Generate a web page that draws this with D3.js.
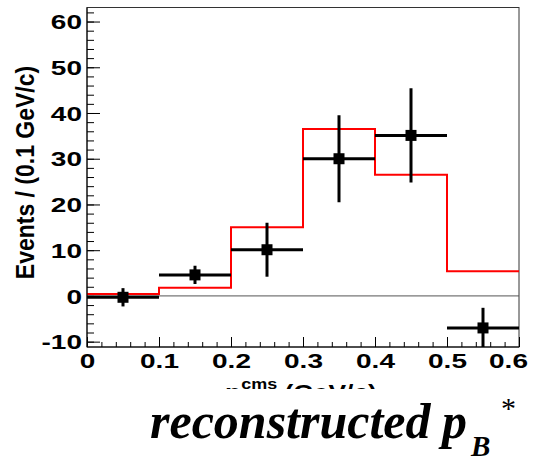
<!DOCTYPE html>
<html>
<head>
<meta charset="utf-8">
<script src="https://cdn.jsdelivr.net/npm/d3@7"></script>
<style>
  html, body { margin: 0; padding: 0; background: #fff; }
  svg { display: block; }
</style>
</head>
<body>
<script>
// ---- data ----
const binEdges = [0, 0.1, 0.2, 0.3, 0.4, 0.5, 0.6];
const fitValues = [0.4, 1.8, 15.0, 36.5, 26.5, 5.4];          // red histogram
const dataCenters = [0.05, 0.15, 0.25, 0.35, 0.45, 0.55];
const dataValues = [-0.3, 4.6, 10.1, 30.0, 35.1, -7.0];
const dataErrors = [2.0, 2.0, 5.9, 9.5, 10.3, 4.4];
const yTicks = [-10, 0, 10, 20, 30, 40, 50, 60];
const xTicks = [0, 0.1, 0.2, 0.3, 0.4, 0.5, 0.6];
const yTitle = "Events / (0.1 GeV/c)";
const captionMain = "reconstructed ";

const W = 536, H = 461;
const m = { left: 87, top: 7.5, right: 536 - 519, bottom: 461 - 347 };
const iw = W - m.left - m.right, ih = H - m.top - m.bottom;

const svg = d3.select("body").append("svg").attr("width", W).attr("height", H);
const g = svg.append("g").attr("transform", `translate(${m.left},${m.top})`);

const x = d3.scaleLinear().domain([0, 0.6]).range([0, iw]);
const y = d3.scaleLinear().domain([-11.17, 63.07]).range([ih, 0]);

svg.append("defs").append("clipPath").attr("id", "clip")
  .append("rect").attr("width", iw).attr("height", ih);

// frame
g.append("rect").attr("width", iw).attr("height", ih)
  .attr("fill", "none").attr("stroke", "#333").attr("stroke-width", 1);

// zero line
g.append("line").attr("x1", 0).attr("x2", iw).attr("y1", y(0)).attr("y2", y(0))
  .attr("stroke", "#555").attr("stroke-width", 1);

const plot = g.append("g").attr("clip-path", "url(#clip)");

// red step histogram
const stepPts = [];
fitValues.forEach((v, i) => { stepPts.push([binEdges[i], v]); stepPts.push([binEdges[i + 1], v]); });
plot.append("path")
  .attr("d", d3.line().x(d => x(d[0])).y(d => y(d[1]))(stepPts))
  .attr("fill", "none").attr("stroke", "#ff0000").attr("stroke-width", 2);

// data points with errors
const pts = plot.selectAll("g.pt").data(dataValues.map((v, i) => ({
  c: dataCenters[i], v, e: dataErrors[i], lo: binEdges[i], hi: binEdges[i + 1]
}))).join("g").attr("class", "pt");
pts.append("line").attr("x1", d => x(d.lo)).attr("x2", d => x(d.hi))
  .attr("y1", d => y(d.v)).attr("y2", d => y(d.v)).attr("stroke", "#000").attr("stroke-width", 3);
pts.append("line").attr("x1", d => x(d.c)).attr("x2", d => x(d.c))
  .attr("y1", d => y(d.v - d.e)).attr("y2", d => y(d.v + d.e)).attr("stroke", "#000").attr("stroke-width", 3);
pts.append("rect").attr("x", d => x(d.c) - 5.5).attr("y", d => y(d.v) - 5.5)
  .attr("width", 11).attr("height", 11).attr("fill", "#000");

// axes
const SX = 1.4;
const yMinor = d3.range(-10, 63, 2);
g.append("g").call(d3.axisLeft(y).tickValues(yMinor).tickSize(-7).tickFormat(""))
  .call(a => a.select(".domain").remove())
  .selectAll("line").attr("stroke", "#000");
const ya = g.append("g").call(d3.axisLeft(y).tickValues(yTicks).tickSize(-13).tickPadding(0).tickFormat(d3.format("d")));
ya.select(".domain").attr("stroke", "#000").attr("d", `M0,0V${ih}`);
ya.selectAll("line").attr("stroke", "#000");
ya.selectAll("text")
  .attr("x", -5 / SX).attr("dy", "0.36em")
  .attr("transform", `scale(${SX},1)`)
  .attr("font-family", "'Liberation Sans', Arial, sans-serif")
  .attr("font-weight", "bold").attr("font-size", 20).attr("fill", "#000")
  .text(d => d === -10 ? "-10" : d);

const xMinor = d3.range(0, 0.601, 0.02);
g.append("g").attr("transform", `translate(0,${ih})`)
  .call(d3.axisBottom(x).tickValues(xMinor).tickSize(-5).tickFormat(""))
  .call(a => a.select(".domain").remove())
  .selectAll("line").attr("stroke", "#000");
const xa = g.append("g").attr("transform", `translate(0,${ih})`)
  .call(d3.axisBottom(x).tickValues(xTicks).tickSize(-10).tickPadding(0).tickFormat(d => d === 0 ? "0" : d3.format(".1f")(d)));
xa.select(".domain").attr("stroke", "#000").attr("d", `M0,0H${iw}`);
xa.selectAll("line").attr("stroke", "#000");
xa.selectAll("text")
  .attr("y", 21).attr("dy", 0)
  .attr("transform", d => d === 0.6 ? `translate(-11,0) scale(${SX},1)` : `scale(${SX},1)`)
  .attr("font-family", "'Liberation Sans', Arial, sans-serif")
  .attr("font-weight", "bold").attr("font-size", 20).attr("fill", "#000");

// y title
svg.append("text")
  .attr("transform", `translate(34,${(62 + 283) / 2}) rotate(-90) scale(1,1.15)`)
  .attr("text-anchor", "middle")
  .attr("font-family", "'Liberation Sans', Arial, sans-serif")
  .attr("font-weight", "bold").attr("font-size", 23).text(yTitle);

// x title (mostly covered)
const xt = svg.append("text")
  .attr("transform", `translate(301,400) scale(1.2,1)`)
  .attr("text-anchor", "middle")
  .attr("font-family", "'Liberation Sans', Arial, sans-serif")
  .attr("font-weight", "bold").attr("font-size", 22);
xt.append("tspan").text("p");
xt.append("tspan").attr("font-size", 15).attr("dy", -11).text("cms");
xt.append("tspan").attr("dy", 11).text(" (GeV/c)");

// white cover box
svg.append("rect").attr("x", 0).attr("y", 389).attr("width", W).attr("height", H - 389).attr("fill", "#fff");

// caption
const cap = svg.append("text").attr("x", 150).attr("y", 438)
  .attr("font-family", "'Liberation Serif', 'Times New Roman', serif")
  .attr("font-weight", "bold").attr("font-style", "italic").attr("font-size", 50);
cap.append("tspan").text(captionMain);
svg.append("text").attr("x", 442).attr("y", 438)
  .attr("font-family", "'Liberation Serif', 'Times New Roman', serif")
  .attr("font-weight", "bold").attr("font-style", "italic").attr("font-size", 50).text("p");
svg.append("text").attr("x", 471).attr("y", 456)
  .attr("font-family", "'Liberation Serif', 'Times New Roman', serif")
  .attr("font-weight", "bold").attr("font-style", "italic").attr("font-size", 29).text("B");
svg.append("text").attr("x", 501).attr("y", 418)
  .attr("font-family", "'Liberation Serif', 'Times New Roman', serif")
  .attr("font-size", 30).text("*");
</script>
</body>
</html>
